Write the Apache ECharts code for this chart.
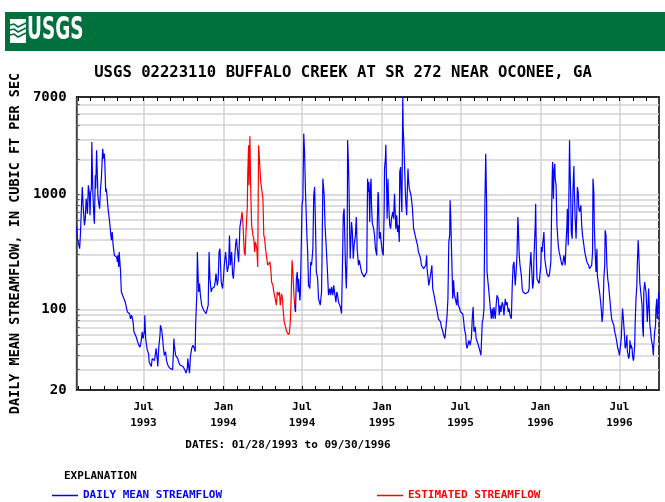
<!DOCTYPE html>
<html><head><meta charset="utf-8">
<script src="https://cdn.jsdelivr.net/npm/echarts@6/dist/echarts.min.js"></script>
<style>html,body{margin:0;padding:0;background:#fff}#c{width:665px;height:502px}</style>
</head><body><div id="c"></div>
<script>
// ---- data (day index counted from 01/28/1993, flow in cubic ft per sec) ----
const startDate = '1993-01-28';
const endDate = '1996-09-30';
const titleText = 'USGS 02223110 BUFFALO CREEK AT SR 272 NEAR OCONEE, GA';
const yAxisTitle = 'DAILY MEAN STREAMFLOW, IN CUBIC FT PER SEC';
const datesText = 'DATES: 01/28/1993 to 09/30/1996';
const yLabelValues = [20, 100, 1000, 7000];
const yGridValues = [20,30,40,50,60,70,80,90,100,200,300,400,500,600,700,800,900,1000,2000,3000,4000,5000,6000,7000];
const monthNames = ['Jan','Feb','Mar','Apr','May','Jun','Jul','Aug','Sep','Oct','Nov','Dec'];

const dailyMeanBefore = [[0,520],[2,412],[5,412],[7,337],[9,471],[11,751],[13,1158],[15,802],[18,538],[20,615],[22,917],[25,680],[27,1197],[29,1048],[31,658],[32,1010],[34,1120],[35,2845],[37,1197],[38,917],[40,615],[41,556],[43,1462],[44,1120],[46,2410],[48,1368],[49,980],[51,830],[53,751],[55,1120],[57,1368],[60,2490],[62,2040],[64,2255],[65,1846],[67,1048],[68,1120],[70,980],[72,776],[76,575],[78,556],[80,399],[82,471],[84,361],[86,316],[87,295],[90,305],[92,286],[94,259],[95,295],[97,234],[98,316],[100,320],[101,219],[103,142],[105,137],[109,124],[112,116],[114,120],[117,95],[120,92],[122,92],[124,83],[127,89],[130,78],[132,64],[134,62],[137,58],[141,56],[143,49],[146,47],[149,54],[151,64],[153,56],[156,64],[157,89],[159,56],[161,49],[163,44],[166,41],[167,35],[169,34],[172,32],[174,37.5],[176,39],[179,36],[181,40],[183,46],[186,36],[187,32],[189,46],[192,60],[193,73],[196,66],[198,56],[200,46],[202,40],[205,43],[207,36],[210,33],[214,31],[218,30],[221,30],[223,43],[224,56],[225,49],[228,40],[230,39],[233,37.5],[235,35],[238,33],[240,33.5],[242,34],[245,32],[247,31],[250,29.5],[252,28],[255,31],[256,37.5],[258,32],[260,28],[262,39],[265,46],[268,49],[271,46],[273,43],[274,73],[277,142],[278,316],[281,142],[283,168],[285,133],[288,109],[291,102],[293,98],[295,95],[298,92],[301,102],[303,109],[305,316],[307,185],[310,142],[312,152],[314,147],[317,157],[319,173],[321,205],[324,162],[326,185],[328,316],[330,337],[333,173],[336,152],[338,185],[340,242],[343,316],[345,259],[347,212],[350,242],[352,440],[354,242],[357,316],[359,205],[361,185],[363,242],[366,361],[368,412],[370,337],[373,259],[374,316],[376,520],[379,615]];

const estimatedFlow = [[379,615],[381,703],[383,556],[386,316],[388,295],[390,471],[393,776],[394,1462],[396,2663],[397,1197],[399,3190],[401,1048],[403,538],[406,440],[408,412],[410,316],[412,386],[415,337],[417,234],[419,2663],[422,2755],[424,1279],[426,1279],[429,917],[431,440],[433,412],[435,337],[438,276],[440,242],[442,250],[445,259],[447,226],[449,173],[452,162],[454,142],[455,142],[458,120],[460,109],[462,142],[465,133],[467,142],[469,109],[472,137],[474,124],[476,95],[478,78],[481,70.5],[483,66],[485,63],[488,60.5],[490,63],[492,78],[494,124],[496,267],[498,212],[500,142],[502,109]];

const dailyMeanAfter = [[502,109],[504,95],[506,185],[508,212],[510,142],[511,185],[514,120],[515,133],[517,305],[519,802],[521,917],[523,3365],[525,2255],[527,1048],[530,471],[532,316],[534,162],[537,152],[539,259],[541,242],[544,337],[546,980],[548,1158],[550,538],[552,212],[555,185],[557,124],[561,109],[564,142],[565,259],[567,1368],[570,980],[572,538],[575,337],[578,198],[580,133],[583,152],[585,133],[587,157],[590,133],[592,162],[594,142],[597,116],[599,142],[601,133],[603,116],[606,109],[608,102],[610,92],[612,226],[614,658],[616,751],[619,242],[621,152],[623,316],[624,2945],[626,1786],[627,1279],[629,412],[630,276],[633,575],[635,471],[637,276],[639,361],[642,440],[644,636],[646,337],[649,242],[651,267],[653,259],[656,212],[659,205],[662,192],[666,198],[668,212],[669,556],[670,1368],[672,1048],[673,1279],[675,575],[676,1048],[678,1368],[679,802],[681,556],[682,575],[684,503],[686,440],[688,337],[691,295],[692,471],[694,1048],[695,980],[697,412],[699,471],[702,361],[704,316],[706,295],[708,658],[709,1671],[711,2040],[712,2700],[714,1048],[715,615],[717,1368],[718,917],[721,538],[723,503],[725,615],[728,703],[730,615],[732,1010],[735,503],[737,658],[739,471],[741,538],[743,386],[744,1560],[746,1727],[747,1120],[749,703],[751,7000],[752,3730],[754,2490],[755,1846],[757,1048],[758,858],[760,658],[761,917],[763,1671],[764,1368],[766,1120],[768,1048],[770,980],[773,776],[776,503],[778,520],[780,487],[783,386],[785,361],[787,316],[790,295],[792,276],[794,242],[797,234],[799,226],[801,226],[804,242],[806,295],[807,226],[809,192],[811,162],[813,157],[816,212],[818,242],[820,152],[822,147],[824,128],[826,116],[829,102],[831,92],[833,83],[836,86],[838,78],[840,70.5],[843,65],[845,60],[848,56],[850,54],[853,89],[855,124],[857,386],[859,440],[860,887],[862,538],[863,361],[865,185],[866,124],[868,179],[870,133],[872,124],[875,109],[877,142],[879,109],[882,102],[884,95],[886,98],[889,92],[891,81],[893,68],[896,60],[897,51],[899,46],[901,49],[903,54],[905,56],[906,49],[909,56],[911,83],[913,105],[915,64],[918,70.5],[920,56],[922,58],[925,49],[927,46],[929,43],[931,40],[934,78],[936,83],[938,102],[940,776],[942,2255],[944,858],[945,212],[948,162],[950,133],[952,109],[955,83],[957,102],[959,83],[961,105],[964,83],[966,109],[968,133],[971,124],[973,89],[975,109],[977,95],[980,116],[982,109],[984,89],[987,124],[989,109],[991,116],[994,95],[996,102],[998,89],[1001,83],[1003,157],[1005,242],[1007,259],[1010,162],[1012,212],[1014,295],[1016,636],[1017,538],[1019,305],[1021,242],[1024,198],[1026,152],[1028,142],[1030,147],[1033,137],[1035,142],[1037,133],[1040,142],[1042,152],[1043,212],[1046,316],[1047,259],[1049,185],[1050,152],[1052,173],[1053,276],[1056,538],[1057,830],[1059,242],[1060,185],[1063,179],[1065,168],[1067,162],[1069,242],[1070,349],[1072,316],[1073,361],[1076,471],[1078,276],[1080,242],[1083,205],[1085,198],[1087,192],[1089,205],[1092,259],[1093,471],[1095,1380],[1096,1910],[1098,917],[1099,1560],[1101,1846],[1102,1368],[1104,1197],[1106,538],[1109,361],[1111,316],[1113,295],[1115,267],[1118,242],[1120,259],[1122,295],[1125,242],[1127,386],[1129,538],[1130,751],[1132,361],[1133,658],[1135,2945],[1136,1786],[1138,858],[1139,471],[1141,412],[1143,1120],[1145,1760],[1146,1120],[1148,615],[1150,412],[1152,751],[1153,1158],[1155,1048],[1156,776],[1158,703],[1161,802],[1163,538],[1165,440],[1168,361],[1170,316],[1172,290],[1175,259],[1177,250],[1179,242],[1181,226],[1184,219],[1186,242],[1188,316],[1189,1368],[1191,1048],[1192,538],[1194,316],[1196,212],[1198,337],[1199,198],[1201,173],[1203,152],[1205,133],[1208,102],[1210,78],[1212,95],[1214,185],[1216,242],[1217,487],[1219,440],[1221,242],[1223,185],[1225,162],[1227,133],[1230,98],[1232,83],[1234,78],[1237,73],[1239,64],[1241,60],[1244,52],[1246,46],[1248,44],[1250,40],[1253,40],[1254,56],[1256,83],[1257,102],[1259,83],[1260,73],[1262,56],[1263,46],[1265,49],[1267,60],[1268,44],[1270,40],[1271,37.5],[1273,40],[1274,54],[1276,46],[1277,49],[1279,46],[1280,40],[1282,36],[1283,37.5],[1285,49],[1286,73],[1288,124],[1290,162],[1291,242],[1293,399],[1294,337],[1296,212],[1297,168],[1299,162],[1300,168],[1302,109],[1303,73],[1305,58],[1306,142],[1308,173],[1309,162],[1311,142],[1313,102],[1314,78],[1316,109],[1317,152],[1319,95],[1320,73],[1322,64],[1323,56],[1325,51],[1326,49],[1328,40],[1329,49],[1331,64],[1333,73],[1334,102],[1336,124],[1337,83],[1339,95],[1340,142],[1341,124]];

// ---- build daily categories ----
const categories = [];
(function(){
  const s = startDate.split('-').map(Number), e = endDate.split('-').map(Number);
  const t0 = Date.UTC(s[0], s[1]-1, s[2]), t1 = Date.UTC(e[0], e[1]-1, e[2]);
  for (let t = t0; t <= t1; t += 86400000) categories.push(new Date(t).toISOString().slice(0,10));
})();
const isMonthStart = v => v.slice(8) === '01';
const isHalfYear = v => isMonthStart(v) && (v.slice(5,7) === '01' || v.slice(5,7) === '07');
const toSeries = arr => arr.map(p => [categories[p[0]], p[1]]);

const MONO = '"DejaVu Sans Mono", "Liberation Mono", monospace';
const BLUE = '#0000ff', RED = '#ff0000';
const chart = echarts.init(document.getElementById('c'), null, {renderer: 'canvas'});

const xBase = {
  type: 'category', data: categories, boundaryGap: false,
  axisLine: {show: true, lineStyle: {color: '#000', width: 1.5}},
  axisTick: {show: true, inside: true, length: 4, interval: (i, v) => isMonthStart(v), lineStyle: {color: '#000'}}
};

chart.setOption({
  animation: false,
  grid: {left: 76, top: 97, width: 583, height: 293, show: true, borderColor: '#000', borderWidth: 1.5, backgroundColor: 'transparent'},
  xAxis: [
    Object.assign({}, xBase, {
      position: 'bottom',
      axisLabel: {interval: (i, v) => isHalfYear(v), margin: 9, formatter: v => monthNames[+v.slice(5,7)-1] + '\n' + v.slice(0,4),
        fontFamily: MONO, fontWeight: 'bold', fontSize: 11, lineHeight: 16, color: '#000'},
      splitLine: {show: true, interval: (i, v) => isHalfYear(v), lineStyle: {color: '#d2d2d2', width: 1.5}}
    }),
    Object.assign({}, xBase, {position: 'top', axisLabel: {show: false}, splitLine: {show: false}})
  ],
  yAxis: {
    type: 'log', logBase: 10, min: 20, max: 7000,
    name: yAxisTitle, nameLocation: 'middle', nameGap: 44, nameRotate: 90,
    nameTextStyle: {fontFamily: MONO, fontWeight: 'bold', fontSize: 13.5, color: '#000'},
    axisLine: {show: true, lineStyle: {color: '#555', width: 1.5}},
    axisTick: {show: true, inside: true, length: 3, customValues: yGridValues, lineStyle: {color: '#555'}},
    axisLabel: {customValues: yLabelValues, margin: 10, fontFamily: MONO, fontWeight: 'bold', fontSize: 14, color: '#000',
      formatter: v => String(Math.round(v))},
    splitLine: {show: true, lineStyle: {color: '#d2d2d2', width: 1.5}}
  },
  legend: [
    {data: ['DAILY MEAN STREAMFLOW'], left: 52, top: 490, padding: 0, icon: 'rect', itemWidth: 26, itemHeight: 1.5,
      textStyle: {fontFamily: MONO, fontWeight: 'bold', fontSize: 11, color: BLUE}, selectedMode: false},
    {data: ['ESTIMATED STREAMFLOW'], left: 377, top: 490, padding: 0, icon: 'rect', itemWidth: 26, itemHeight: 1.5,
      textStyle: {fontFamily: MONO, fontWeight: 'bold', fontSize: 11, color: RED}, selectedMode: false}
  ],
  graphic: [
    {type: 'rect', shape: {x: 5, y: 12, width: 660, height: 39}, style: {fill: '#00703c'}},
    {type: 'rect', shape: {x: 10, y: 19, width: 16, height: 24}, style: {fill: '#fff'}},
    {type: 'polyline', shape: {points: [[10,25],[14,24],[18,27],[22,25],[26,23]]}, style: {stroke: '#00703c', lineWidth: 1.6, fill: null}},
    {type: 'polyline', shape: {points: [[10,30],[14,29],[18,32],[22,30],[26,28]]}, style: {stroke: '#00703c', lineWidth: 1.6, fill: null}},
    {type: 'polyline', shape: {points: [[10,35],[14,34],[18,37],[22,35],[26,33]]}, style: {stroke: '#00703c', lineWidth: 1.6, fill: null}},
    {type: 'text', x: 27, y: 31, scaleX: 0.62, scaleY: 0.95, style: {text: 'USGS', fill: '#fff', font: 'bold 33px "Liberation Sans Narrow", "DejaVu Sans Condensed", sans-serif', textVerticalAlign: 'middle'}},
    {type: 'text', x: 343, y: 73, style: {text: titleText, fill: '#000', font: 'bold 15.6px ' + MONO, textAlign: 'center', textVerticalAlign: 'middle'}},
    {type: 'text', x: 288, y: 445, style: {text: datesText, fill: '#000', font: 'bold 11px ' + MONO, textAlign: 'center', textVerticalAlign: 'middle'}},
    {type: 'text', x: 64, y: 476, style: {text: 'EXPLANATION', fill: '#000', font: 'bold 11px ' + MONO, textVerticalAlign: 'middle'}}
  ],
  series: [
    {name: 'DAILY MEAN STREAMFLOW', type: 'line', data: toSeries(dailyMeanBefore), showSymbol: false, symbol: 'none',
      lineStyle: {color: BLUE, width: 1.2}, itemStyle: {color: BLUE}, silent: true},
    {name: 'ESTIMATED STREAMFLOW', type: 'line', data: toSeries(estimatedFlow), showSymbol: false, symbol: 'none',
      lineStyle: {color: RED, width: 1.2}, itemStyle: {color: RED}, silent: true},
    {name: 'DAILY MEAN STREAMFLOW', type: 'line', data: toSeries(dailyMeanAfter), showSymbol: false, symbol: 'none',
      lineStyle: {color: BLUE, width: 1.2}, itemStyle: {color: BLUE}, silent: true}
  ]
});
</script></body></html>
